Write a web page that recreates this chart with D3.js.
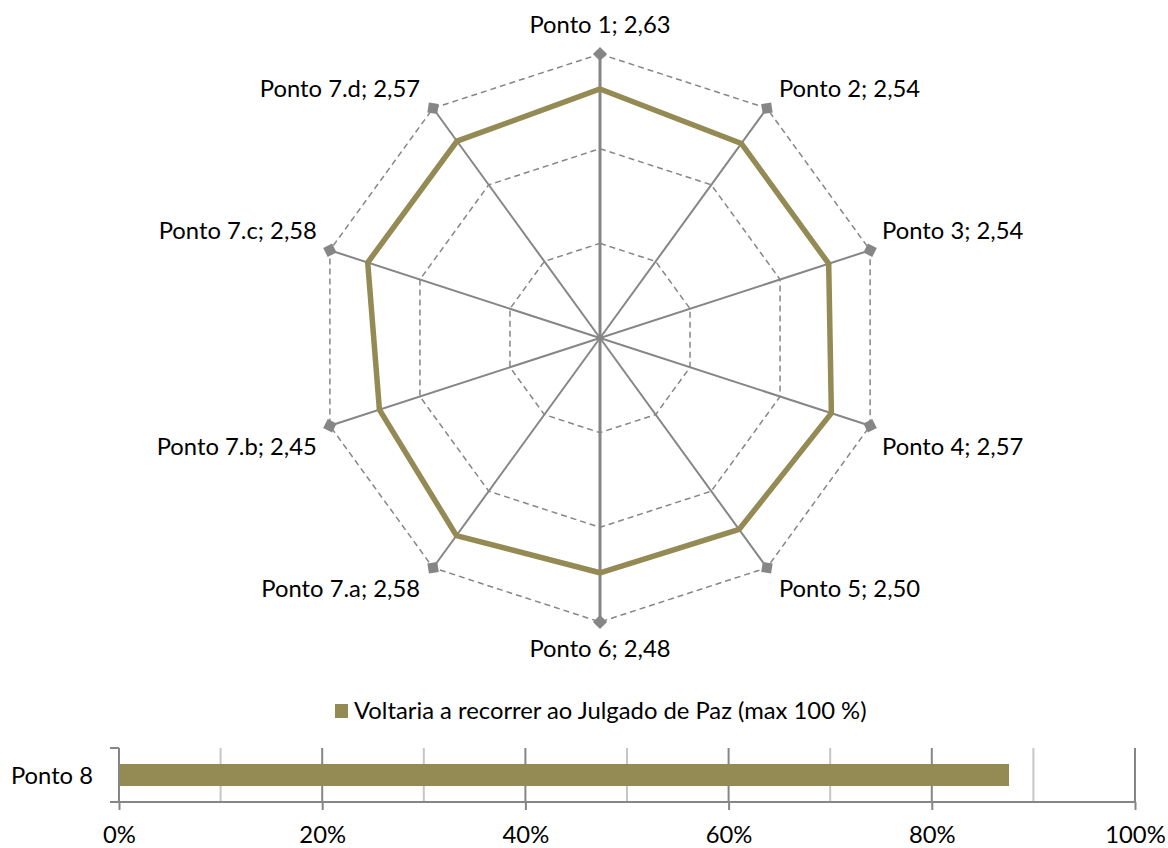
<!DOCTYPE html>
<html>
<head>
<meta charset="utf-8">
<script src="https://cdn.jsdelivr.net/npm/d3@7"></script>
<style>
  html, body { margin: 0; padding: 0; background: #fff; }
  svg { display: block; }
  text { font-family: Lato, "Open Sans", sans-serif; fill: #000; }
</style>
</head>
<body>
<svg id="chart" width="1168" height="848"></svg>
<script>
// Radar categories and average scores
const radarCategories = ["Ponto 1", "Ponto 2", "Ponto 3", "Ponto 4", "Ponto 5",
                         "Ponto 6", "Ponto 7.a", "Ponto 7.b", "Ponto 7.c", "Ponto 7.d"];
const radarValues = [2.63, 2.54, 2.54, 2.57, 2.50, 2.48, 2.58, 2.45, 2.58, 2.57];
const radarRings = [1, 2, 3];
const radarMax = 3;

// Bar: share that would use the service again
const barCategories = ["Ponto 8"];
const barValues = [0.876];
const barTicks = [0, 0.2, 0.4, 0.6, 0.8, 1];
const barGrid = [0.1, 0.3, 0.5, 0.7, 0.9];
const legendLabel = "Voltaria a recorrer ao Julgado de Paz (max 100 %)";

const olive = "#948A54";
const grey = "#868686";
const fs = 23.8;
const fmt = v => d3.format(".2f")(v).replace(".", ",");

const svg = d3.select("#chart");

// ---------- Radar ----------
const cx = 600, cy = 338, R = 284;
const r = d3.scaleLinear().domain([0, radarMax]).range([0, R]);
const n = radarCategories.length;
const ang = i => i * 2 * Math.PI / n;
const pt = (i, v) => [cx + r(v) * Math.sin(ang(i)), cy - r(v) * Math.cos(ang(i))];

const radar = svg.append("g");

// dashed rings
radar.selectAll("path.ring").data(radarRings).join("path")
  .attr("class", "ring")
  .attr("d", v => d3.line()(radarCategories.map((c, i) => pt(i, v))) + "Z")
  .attr("fill", "none")
  .attr("stroke", grey)
  .attr("stroke-width", 1.5)
  .attr("stroke-dasharray", "6,4");

// spokes
radar.selectAll("line.spoke").data(radarCategories).join("line")
  .attr("class", "spoke")
  .attr("x1", cx).attr("y1", cy)
  .attr("x2", (c, i) => pt(i, radarMax)[0])
  .attr("y2", (c, i) => pt(i, radarMax)[1])
  .attr("stroke", grey)
  .attr("stroke-width", (c, i) => i === 0 || i === n / 2 ? 3 : 2);

// data polygon
radar.append("path")
  .attr("d", d3.line()(radarValues.map((v, i) => pt(i, v))) + "Z")
  .attr("fill", "none")
  .attr("stroke", olive)
  .attr("stroke-width", 5.5)
  .attr("stroke-linejoin", "miter");

// outer vertex markers
radar.selectAll("rect.marker").data(radarCategories).join("rect")
  .attr("class", "marker")
  .attr("x", -5).attr("y", -5).attr("width", 10).attr("height", 10)
  .attr("fill", grey)
  .attr("transform", (c, i) => {
    const [x, y] = pt(i, radarMax);
    return `translate(${x},${y}) rotate(${ang(i) * 180 / Math.PI + 45})`;
  });

// category labels
radar.selectAll("text.lbl").data(radarCategories).join("text")
  .attr("class", "lbl")
  .attr("font-size", fs)
  .each(function (c, i) {
    const [x, y] = pt(i, radarMax);
    const s = Math.sin(ang(i)), co = Math.cos(ang(i));
    let anchor, dx, dy;
    if (Math.abs(s) < 1e-6) {
      anchor = "middle"; dx = 0; dy = co > 0 ? -21 : 35;
    } else {
      anchor = s > 0 ? "start" : "end";
      dx = s > 0 ? 12 : -13;
      dy = co > 0 ? -11 : 29;
    }
    d3.select(this)
      .attr("x", x + dx).attr("y", y + dy)
      .attr("text-anchor", anchor)
      .text(`${c}; ${fmt(radarValues[i])}`);
  });

// ---------- Legend ----------
const legend = svg.append("g");
legend.append("rect")
  .attr("x", 335).attr("y", 704).attr("width", 13).attr("height", 14)
  .attr("fill", olive);
legend.append("text")
  .attr("x", 354).attr("y", 719)
  .attr("font-size", fs)
  .text(legendLabel);

// ---------- Bar ----------
const x = d3.scaleLinear().domain([0, 1]).range([119, 1135]);
const y = d3.scaleBand().domain(barCategories).range([748, 802]).padding(0.42);
const bar = svg.append("g");
const [y0, y1] = y.range();

// gridlines
bar.selectAll("line.minor").data(barGrid).join("line")
  .attr("x1", d => x(d)).attr("x2", d => x(d))
  .attr("y1", y0).attr("y2", y1)
  .attr("stroke", "#c6c6c6").attr("stroke-width", 2);
bar.selectAll("line.major").data(barTicks.slice(1)).join("line")
  .attr("x1", d => x(d)).attr("x2", d => x(d))
  .attr("y1", y0).attr("y2", y1)
  .attr("stroke", grey).attr("stroke-width", 2);

// bars
bar.selectAll("rect.bar").data(barValues).join("rect")
  .attr("x", x(0))
  .attr("y", (d, i) => y(barCategories[i]))
  .attr("width", d => x(d) - x(0))
  .attr("height", y.bandwidth())
  .attr("fill", olive);

// x axis
const xAxis = bar.append("g")
  .attr("transform", `translate(0,${y1})`)
  .call(d3.axisBottom(x).tickValues(barTicks).tickFormat(d3.format(".0%"))
    .tickSize(8).tickSizeOuter(0).tickPadding(16));
xAxis.select(".domain").attr("stroke", grey).attr("stroke-width", 2)
  .attr("d", `M${x(0) - 9},0H${x(1)}`);
xAxis.selectAll(".tick line").attr("stroke", grey).attr("stroke-width", 2);
xAxis.selectAll(".tick text")
  .attr("font-family", "Lato, 'Open Sans', sans-serif")
  .attr("font-size", fs).attr("fill", "#000");

// y axis line and band boundary ticks
bar.append("line")
  .attr("x1", x(0)).attr("x2", x(0)).attr("y1", y0).attr("y2", y1)
  .attr("stroke", grey).attr("stroke-width", 2);
bar.append("line")
  .attr("x1", x(0) - 9).attr("x2", x(0)).attr("y1", y0).attr("y2", y0)
  .attr("stroke", grey).attr("stroke-width", 2);
bar.selectAll("text.cat").data(barCategories).join("text")
  .attr("class", "cat")
  .attr("x", x(0) - 26)
  .attr("y", c => y(c) + y.bandwidth() / 2)
  .attr("dy", "0.36em")
  .attr("text-anchor", "end")
  .attr("font-size", fs)
  .text(c => c);
</script>
</body>
</html>
